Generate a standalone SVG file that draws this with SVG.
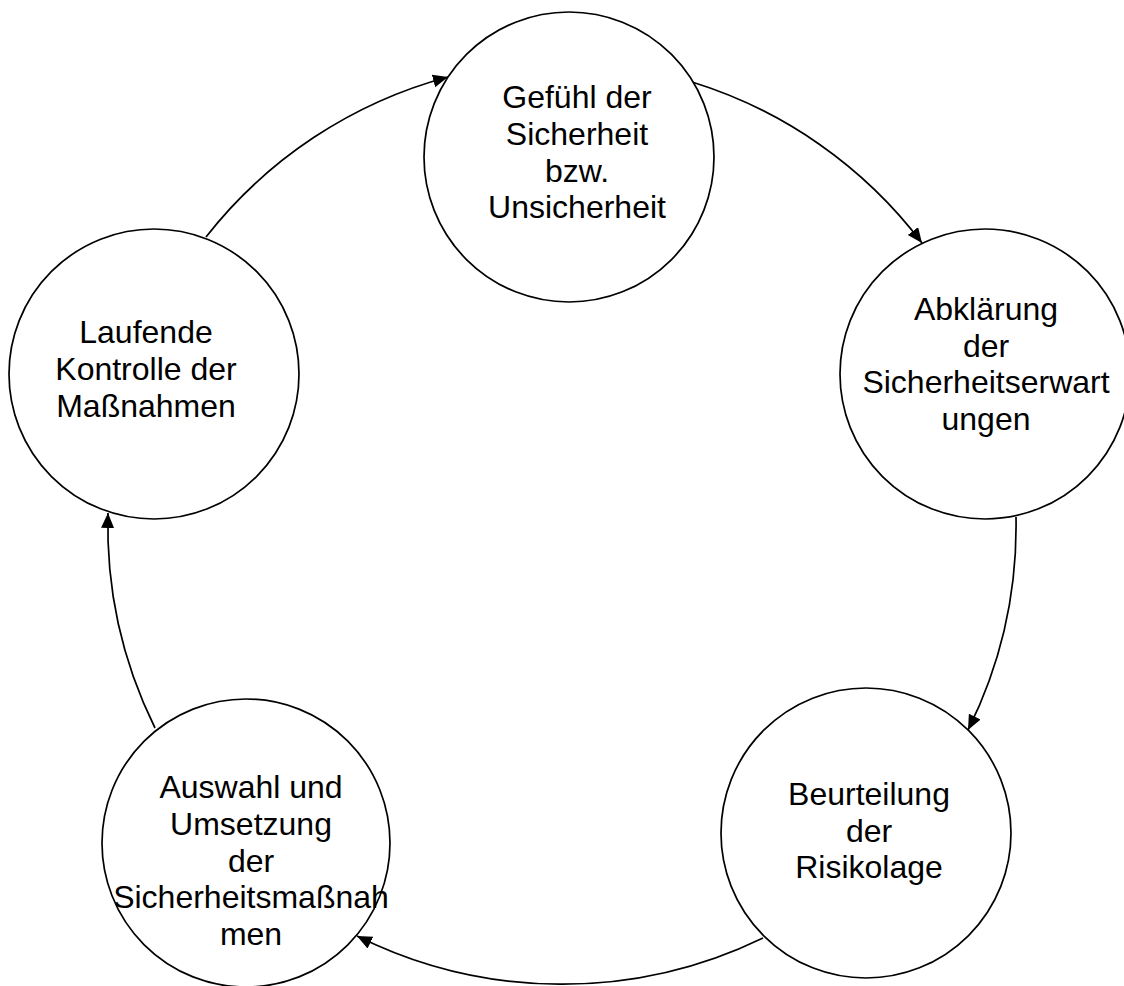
<svg xmlns="http://www.w3.org/2000/svg" width="1124" height="986" viewBox="0 0 1124 986">
<defs>
<style>
.node circle{fill:#fff;stroke:#000;stroke-width:1.7}
.node text{font-family:"Liberation Sans",Arial,sans-serif;font-size:32px;fill:#000;text-anchor:middle}
.conn path{fill:none;stroke:#000;stroke-width:1.7}
</style>
<marker id="arr" markerUnits="userSpaceOnUse" markerWidth="17" markerHeight="15" refX="15" refY="6.5" orient="auto">
<path d="M0,0 L15,6.5 L0,13 z" fill="#000"/>
</marker>
</defs>
<rect width="1124" height="986" fill="#fff"/>
<g id="connectors" class="conn">
<path d="M206,237 A458,458 0 0 1 448,77" marker-end="url(#arr)"/>
<path d="M692,82 A458,458 0 0 1 922,243" marker-end="url(#arr)"/>
<path d="M1016,517 A458,458 0 0 1 968,730" marker-end="url(#arr)"/>
<path d="M763,938 A460,460 0 0 1 357,936" marker-end="url(#arr)"/>
<path d="M155,728 A458,458 0 0 1 108,513" marker-end="url(#arr)"/>
</g>
<g id="node1" class="node">
<circle cx="569" cy="157" r="145"/>
<text x="577" y="108">Gefühl der</text>
<text x="577" y="145">Sicherheit</text>
<text x="577" y="182">bzw.</text>
<text x="577" y="218">Unsicherheit</text>
</g>
<g id="node2" class="node">
<circle cx="985" cy="374" r="145"/>
<text x="986" y="320">Abklärung</text>
<text x="986" y="357">der</text>
<text x="986" y="393">Sicherheitserwart</text>
<text x="986" y="430">ungen</text>
</g>
<g id="node3" class="node">
<circle cx="866" cy="833" r="145"/>
<text x="869" y="805">Beurteilung</text>
<text x="869" y="842">der</text>
<text x="869" y="878">Risikolage</text>
</g>
<g id="node4" class="node">
<circle cx="246" cy="843" r="144"/>
<text x="251" y="798">Auswahl und</text>
<text x="251" y="835">Umsetzung</text>
<text x="251" y="872">der</text>
<text x="251" y="908">Sicherheitsmaßnah</text>
<text x="251" y="945">men</text>
</g>
<g id="node5" class="node">
<circle cx="154" cy="374" r="145"/>
<text x="146" y="343">Laufende</text>
<text x="146" y="380">Kontrolle der</text>
<text x="146" y="417">Maßnahmen</text>
</g>
</svg>
